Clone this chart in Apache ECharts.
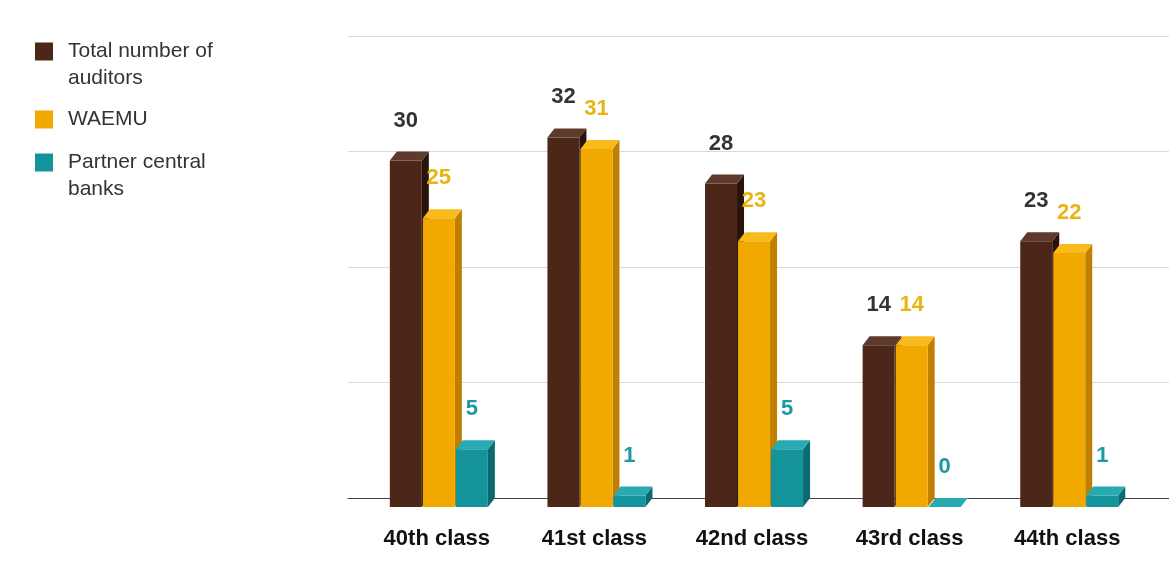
<!DOCTYPE html>
<html>
<head>
<meta charset="utf-8">
<script src="https://cdn.jsdelivr.net/npm/echarts@6/dist/echarts.min.js"></script>
<style>
  html, body { margin: 0; padding: 0; background: #ffffff; }
  #chart { width: 1169px; height: 580px; }
</style>
</head>
<body>
<div id="chart"></div>
<script>
// Auditor intake per class
const categories = ['40th class', '41st class', '42nd class', '43rd class', '44th class'];
const totalAuditors = [30, 32, 28, 14, 23];
const waemu = [25, 31, 23, 14, 22];
const partnerBanks = [5, 1, 5, 0, 1];
const seriesNames = ['Total number of\nauditors', 'WAEMU', 'Partner central\nbanks'];
const valueTicks = [0, 10, 20, 30, 40];

const FONT = '"Liberation Sans", Arial, sans-serif';
// extrusion depth of the pseudo-3D columns
const DX = 7, DY = 9;

const palette = [
  { front: '#4b2619', side: '#2a130b', top: '#5e3a2d', label: '#333333' },
  { front: '#f1a900', side: '#c07f00', top: '#f7bb1c', label: '#e9b410' },
  { front: '#14939b', side: '#0b6a71', top: '#27aab2', label: '#1b9aa2' }
];

function columnRenderer(slot, face) {
  return function (params, api) {
    const i = api.value(0);
    const v = api.value(1);
    const top = api.coord([i, v]);
    const base = api.coord([i, 0]);
    const band = api.size([1, 0])[0];
    const w = band * 0.203;
    const x0 = top[0] + band * (-0.298 + slot * 0.2095);
    const x1 = x0 + w;
    const fy0 = top[1] + DY;
    const fy1 = base[1] + DY;
    return {
      type: 'group',
      children: [
        { type: 'polygon', shape: { points: [[x1, fy0], [x1 + DX, fy0 - DY], [x1 + DX, fy1 - DY], [x1, fy1]] }, style: { fill: face.side } },
        { type: 'rect', shape: { x: x0, y: fy0, width: w, height: fy1 - fy0 }, style: { fill: face.front } },
        { type: 'polygon', shape: { points: [[x0, fy0], [x1, fy0], [x1 + DX, fy0 - DY], [x0 + DX, fy0 - DY]] }, style: { fill: face.top } },
        { type: 'text', z2: 20, style: { text: String(v), x: (x0 + x1) / 2, y: top[1] - 31, align: 'center', verticalAlign: 'middle', fill: face.label, font: 'bold 22px ' + FONT } }
      ]
    };
  };
}

function columnSeries(name, values, slot) {
  return {
    name: name,
    type: 'custom',
    coordinateSystem: 'cartesian2d',
    xAxisIndex: 0,
    yAxisIndex: 0,
    clip: false,
    itemStyle: { color: palette[slot].front },
    encode: { x: 0, y: 1 },
    data: values.map((v, i) => [i, v]),
    renderItem: columnRenderer(slot, palette[slot])
  };
}

// Two-line entries get a leading blank line so the swatch sits beside the first line
function legendFor(name, top) {
  const twoLines = name.indexOf('\n') >= 0;
  return {
    data: [name],
    orient: 'vertical',
    left: 35,
    top: top,
    padding: 0,
    icon: 'rect',
    itemWidth: 18,
    itemHeight: 18,
    itemGap: 0,
    selectedMode: false,
    formatter: (n) => (twoLines ? '\n' + n : n),
    textStyle: {
      fontFamily: FONT,
      fontSize: 21,
      color: '#333333',
      lineHeight: 27,
      padding: [0, 0, 0, 10]
    }
  };
}

const chart = echarts.init(document.getElementById('chart'), null, { renderer: 'canvas' });
chart.setOption({
  animation: false,
  backgroundColor: '#ffffff',
  legend: [
    legendFor(seriesNames[0], 11),
    legendFor(seriesNames[1], 106),
    legendFor(seriesNames[2], 122)
  ],
  grid: [
    { left: 358, right: 23, top: 36, bottom: 82 },
    { left: 348, right: 0, top: 36, bottom: 82 }
  ],
  xAxis: [
    {
      gridIndex: 0,
      type: 'category',
      data: categories,
      axisLine: { show: false },
      axisTick: { show: false },
      axisLabel: { margin: 30, color: '#111111', fontFamily: FONT, fontSize: 22, fontWeight: 'bold' }
    },
    {
      gridIndex: 1,
      type: 'value',
      min: 0,
      max: 1,
      axisLine: { show: true, lineStyle: { color: '#444444', width: 1 } },
      axisTick: { show: false },
      axisLabel: { show: false },
      splitLine: { show: false }
    }
  ],
  yAxis: [
    { gridIndex: 0, type: 'value', min: 0, max: 40, interval: 10, show: false, splitLine: { show: false } },
    {
      gridIndex: 1,
      type: 'value',
      min: valueTicks[0],
      max: valueTicks[valueTicks.length - 1],
      interval: 10,
      axisLine: { show: false },
      axisTick: { show: false },
      axisLabel: { show: false },
      splitLine: { lineStyle: { color: '#dadada', width: 1 } }
    }
  ],
  series: [
    columnSeries(seriesNames[0], totalAuditors, 0),
    columnSeries(seriesNames[1], waemu, 1),
    columnSeries(seriesNames[2], partnerBanks, 2)
  ]
});
</script>
</body>
</html>
